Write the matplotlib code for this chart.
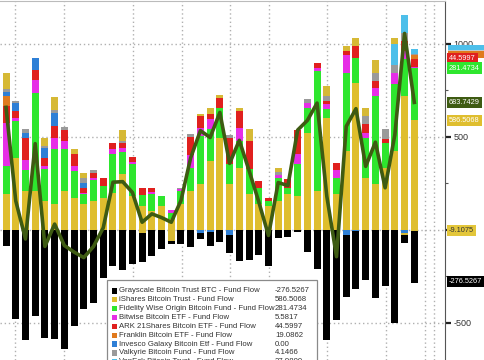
import numpy as np
import matplotlib.pyplot as plt
from matplotlib.patches import Rectangle

plt.rcParams['font.family'] = ['Liberation Sans', 'DejaVu Sans']

# daily fund flows ($m), one entry per trading day
ishares = [194, 387, 210, 210, 156, 140, 210, 172, 140, 156, 172, 199, 301, 183, 129, 102,
           129, 59, 140, 210, 247, 371, 495, 247, 333, 194, 140, 129, 156, 194, 183, 522,
           210, 602, 194, 425, 790, 280, 247, 333, 425, 720, 586.5068]
fidelity = [150, 199, 108, 522, 172, 296, 226, 145, 54, 113, 65, 210, 118, 172, 59, 91,
            54, 32, 70, 124, 258, 172, 161, 108, 145, 134, 86, 27, 124, 32, 172, 129,
            645, 48, 86, 414, 134, 210, 473, 134, 360, 199, 281.4734]
bitwise = [231, 16, 54, 70, 16, 54, 43, 27, 5, 11, 0, 27, 22, 11, 0, 10,
           0, 16, 8, 65, 43, 54, 0, 0, 70, 0, 0, 0, 16, 0, 54, 27,
           16, 27, 38, 97, 0, 32, 43, 0, 54, 43, 5.5817]
ark = [91, 38, 118, 54, 43, 65, 54, 65, 27, 27, 43, 27, 22, 22, 38, 22,
       0, 0, 0, 97, 65, 27, 54, 140, 91, 150, 38, 16, 0, 48, 124, 0,
       22, 16, 38, 22, 65, 48, 38, 22, 0, 54, 44.5997]
franklin = [54, 0, 0, 0, 0, 0, 0, 0, 0, 0, 0, 0, 0, 0, 0, 0,
            0, 0, 0, 0, 0, 0, 0, 0, 0, 0, 0, 0, 0, 0, 0, 0,
            0, 0, 0, 0, 0, 0, 0, 0, 0, 0, 19.0862]
invesco = [20, 38, 32, 65, 54, 70, 0, 0, 27, 0, 0, 0, 0, 0, 0, 0,
           0, 0, 0, 0, -18, -12, 0, -30, 0, 0, 0, 0, 0, 0, 0, 0,
           0, 0, 0, -27, -9, 0, 0, 0, 0, -18, 0.00]
valkyrie = [16, 13, 21, 0, 11, 16, 21, 0, 27, 11, 0, 0, 11, 0, 0, 0,
            0, 0, 8, 16, 0, 0, 0, 11, 0, 0, 0, 0, 16, 0, 0, 22,
            0, 27, 0, 0, 0, 43, 43, 54, 43, 38, 4.1466]
vaneck = [0, 0, 0, 0, 0, 0, 0, 0, 0, 0, 0, 0, 0, 0, 0, 0,
          0, 0, 0, 0, 0, 0, 0, 0, 0, 0, 0, 0, 0, 0, 0, 0,
          0, 0, 0, 0, 0, 0, 0, 0, 118, 97, 27.98]
other = [86, 0, 0, 0, 38, 70, 0, 27, 27, 0, 0, 0, 59, 0, -20, 0,
         0, -60, 0, 0, 11, 27, 16, 0, 16, 65, 0, 0, 22, 0, 0, 0,
         0, 54, 0, 27, 43, 43, 70, 0, 27, -10, -9.1075]
grayscale = [-88, -478, -590, -462, -580, -586, -640, -515, -425, -395, -257, -193, -215, -183, -156, -140,
             -102, -15, -75, -93, -30, -77, -66, -95, -170, -165, -135, -195, -45, -37, -10, -120,
             -210, -595, -487, -335, -312, -270, -368, -300, -500, -45, -276.5267]
total_flow = [657, 155, -50, 462, -90, 30, -85, -120, -150, -90, 10, 255, 258, 200, 40, 85,
              65, 40, 157, 387, 532, 495, 630, 356, 480, 318, 150, -31, 253, 237, 535, 587,
              680, 180, -145, 555, 650, 340, 470, 225, 510, 1054, 683.7429]

names = ['iShares Bitcoin Trust', 'Fidelity Wise Origin Bitcoin Fund', 'Bitwise Bitcoin ETF',
         'ARK 21Shares Bitcoin ETF', 'Franklin Bitcoin ETF', 'Invesco Galaxy Bitcoin Etf',
         'Valkyrie Bitcoin Fund', 'VanEck Bitcoin Trust', 'WisdomTree Bitcoin Fund',
         'Grayscale Bitcoin Trust BTC']
colors = ['#dfbe2e', '#2ee62e', '#e62ee6', '#e0201e', '#e07a1e', '#2e7fd6',
          '#9a9a9a', '#4dbfea', '#d6b935', '#000000']
series = [ishares, fidelity, bitwise, ark, franklin, invesco, valkyrie, vaneck, other, grayscale]

legend_order = [9, 0, 1, 2, 3, 4, 5, 6, 7]
legend_vals = ['-276.5267', '586.5068', '281.4734', '5.5817', '44.5997', '19.0862',
               '0.00', '4.1466', '27.9800']

fig = plt.figure(figsize=(4.85, 3.6), dpi=100)
ax = fig.add_axes([0, 0, 445 / 485, 0.996])

x = np.arange(len(total_flow))
pos_base = np.zeros(len(x))
neg_base = np.zeros(len(x))
for vals, c in zip(series, colors):
    v = np.array(vals, dtype=float)
    p = np.where(v > 0, v, 0)
    q = np.where(v < 0, v, 0)
    ax.bar(x, p, 0.72, bottom=pos_base, color=c, lw=0, zorder=2)
    ax.bar(x, q, 0.72, bottom=neg_base, color=c, lw=0, zorder=2)
    pos_base += p
    neg_base += q

ax.plot(x, total_flow, color='#3e5b12', lw=2.6, zorder=3)

ax.set_xlim(-0.62, 45.16)
ax.set_ylim(-700, 1226)

# grid
ax.set_xticks([0.93, 5.97, 13.07, 18.1, 23.0, 27.06, 33.0, 39.1, 43.1, 44.0])
ax.tick_params(axis='x', length=0, labelbottom=False)
ax.set_yticks([-500, 0, 500, 1000])
ax.set_yticklabels(['-500', '', '500', '1000'])
ax.set_yticks([-250, 250, 750], minor=True)
ax.yaxis.tick_right()
ax.tick_params(axis='y', which='major', direction='out', length=4, width=1.6,
               color='#222222', labelsize=6.5, labelcolor='#333333', pad=2)
ax.tick_params(axis='y', which='minor', direction='out', length=2, width=0.8, color='#555555')
ax.grid(True, which='major', color='#b0b0b0', linestyle=(0, (1, 2)), lw=1)
ax.set_axisbelow(True)
for s in ['left', 'bottom']:
    ax.spines[s].set_visible(False)
ax.spines['right'].set_color('#555555')
ax.spines['right'].set_linewidth(0.8)
ax.spines['top'].set_color('#bbbbbb')

# value tags on the right axis (last day)
last = [s[-1] for s in series]
cum_pos = np.cumsum([max(v, 0) for v in last])
cum_neg = np.cumsum([min(v, 0) for v in last])
tr = ax.get_yaxis_transform()

# tags that sit underneath the others: only slivers show
for yv, fc in [(cum_pos[7] + 2, colors[7]), (cum_pos[6] + 4, '#c8c8c8'), (cum_pos[4] + 3, colors[4])]:
    ax.add_patch(Rectangle((1.006, yv - 20), 0.1, 40, transform=tr, facecolor=fc,
                           edgecolor='none', clip_on=False, zorder=8))

tags = [
    (cum_pos[3], '44.5997', colors[3], 'white'),
    (cum_pos[1], '281.4734', colors[1], 'white'),
    (total_flow[-1], '683.7429', '#3e5b12', 'white'),
    (cum_pos[0], '586.5068', colors[0], 'white'),
    (cum_neg[8] + 4, '-9.1075', '#e3c63a', '#333333'),
    (cum_neg[9] + 8, '-276.5267', '#000000', 'white'),
]
for i, (yv, txt, fc, tc) in enumerate(tags):
    ax.text(1.009, yv, txt, transform=tr, fontsize=5.3, color=tc, va='center', ha='left',
            clip_on=False, zorder=10 + i,
            bbox=dict(boxstyle='square,pad=0.3', fc=fc, ec='none'))

# legend box, partly cut off at the bottom as in the source
def fx(px):
    return px / 485


def fy(py):
    return 1 - py / 360


fig.add_artist(Rectangle((fx(107), fy(380)), fx(317) - fx(107), fy(280) - fy(380),
                         transform=fig.transFigure, facecolor='white', edgecolor='#8a8a8a',
                         lw=0.9, zorder=20))
for row, idx in enumerate(legend_order):
    yc = 290.7 + 8.9 * row
    fig.add_artist(Rectangle((fx(112), fy(yc + 2.8)), fx(5.5), 5.5 / 360,
                             transform=fig.transFigure, facecolor=colors[idx],
                             edgecolor='none', zorder=21))
    fig.text(fx(119), fy(yc), names[idx] + ' - Fund Flow', fontsize=5.6, color='#333333',
             va='center', ha='left', zorder=22)
    fig.text(fx(275), fy(yc), legend_vals[row], fontsize=5.6, color='#333333',
             va='center', ha='left', zorder=22)

fig.savefig('out.png', dpi=100)
